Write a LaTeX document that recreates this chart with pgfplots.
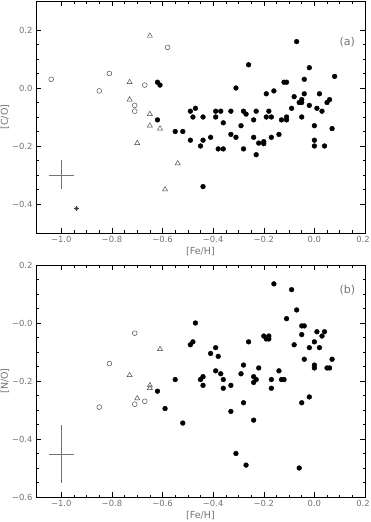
\documentclass[border=0pt]{standalone}
\usepackage{fontspec}
\setmainfont{DejaVu Sans}
\usepackage{pgfplots}
\pgfplotsset{compat=1.18}
\definecolor{txtgray}{gray}{0.45}
\definecolor{symgray}{gray}{0.25}

\pgfplotsset{
  feh/.style={
    scale only axis, width=329pt, height=232pt,
    xmin=-1.1, xmax=0.2,
    xtick={-1.0,-0.8,-0.6,-0.4,-0.2,0.0,0.2},
    xticklabels={−1.0,−0.8,−0.6,−0.4,−0.2,0.0,\hspace*{-4pt}0.2},
    minor x tick num=3, minor y tick num=3,
    tick align=inside,
    major tick length=5pt, minor tick length=2.5pt,
    every tick/.style={black, line width=0.5pt},
    axis line style={line width=0.6pt},
    ticklabel style={font=\fontsize{8.4}{10}\selectfont, text=txtgray},
    label style={font=\fontsize{9.5}{11}\selectfont, text=txtgray},
    xlabel={[Fe/H]},
    xlabel style={yshift=2pt},
    ylabel shift=-4pt,
    clip=false,
  },
  dots/.style={only marks, mark=*, mark size=2.4pt, black},
  opens/.style={only marks, mark=o, mark size=2.4pt, symgray, mark options={line width=0.45pt}},
  tris/.style={only marks, mark=triangle, mark size=2.9pt, symgray, mark options={line width=0.45pt}},
  errcross/.style={draw=none, no marks, txtgray,
    error bars/.cd, x dir=both, x explicit, y dir=both, y explicit,
    error mark=none, error bar style={txtgray, line width=0.5pt}},
}

\begin{document}
\begin{tikzpicture}[x=1pt,y=1pt]
\useasboundingbox (0,0) rectangle (370,-522);

% panel (a)
\begin{axis}[feh, at={(36pt,-1pt)}, anchor=north west,
    ymin=-0.5, ymax=0.3,
    ytick={-0.4,-0.2,0.0,0.2},
    yticklabels={−0.4,−0.2,0.0,0.2},
    ylabel={[C/O]}]
\addplot[dots] coordinates {
 (-0.07,0.16) (-0.26,0.08) (-0.02,0.07) (0.08,0.04) (-0.04,0.03)
 (-0.12,0.02) (-0.11,0.02) (-0.62,0.02) (-0.61,0.01) (-0.31,0.00)
 (-0.16,-0.01) (-0.19,-0.02) (-0.08,-0.03) (-0.04,-0.02) (0.02,-0.02)
 (-0.05,-0.04) (-0.06,-0.05) (-0.05,-0.05) (0.06,-0.04) (0.05,-0.05)
 (-0.09,-0.07) (-0.02,-0.06) (0.01,-0.07) (0.03,-0.08) (-0.18,-0.08)
 (-0.23,-0.08) (-0.19,-0.10) (-0.17,-0.10) (-0.11,-0.10) (-0.11,-0.11)
 (-0.13,-0.11) (-0.05,-0.10) (0.00,-0.13) (0.07,-0.14) (-0.14,-0.16)
 (-0.17,-0.17) (-0.22,-0.19) (-0.20,-0.185) (-0.20,-0.192) (0.00,-0.18)
 (0.00,-0.20) (0.04,-0.20) (-0.23,-0.23) (-0.24,-0.17) (-0.24,-0.11)
 (-0.49,-0.08) (-0.47,-0.07) (-0.48,-0.10) (-0.44,-0.10)
 (-0.39,-0.08) (-0.37,-0.08) (-0.39,-0.10)
 (-0.33,-0.08) (-0.28,-0.08) (-0.27,-0.09)
 (-0.36,-0.12) (-0.29,-0.13) (-0.62,-0.11)
 (-0.55,-0.15) (-0.52,-0.15)
 (-0.41,-0.17) (-0.44,-0.18) (-0.49,-0.18) (-0.45,-0.20)
 (-0.33,-0.16) (-0.31,-0.17)
 (-0.38,-0.21) (-0.36,-0.21) (-0.28,-0.21)
 (-0.44,-0.34)
};
\addplot[opens] coordinates {
 (-1.04,0.03) (-0.85,-0.01) (-0.81,0.05) (-0.67,0.01) (-0.58,0.14)
 (-0.71,-0.06) (-0.71,-0.08)
};
\addplot[tris] coordinates {
 (-0.65,0.18) (-0.73,0.02) (-0.73,-0.04) (-0.65,-0.09) (-0.65,-0.13)
 (-0.61,-0.14) (-0.70,-0.19) (-0.54,-0.26) (-0.59,-0.35)
};
\addplot[only marks, mark=x, mark size=2.4pt, symgray] coordinates {(-0.94,-0.415)};
\addplot[only marks, mark=+, mark size=2.4pt, symgray] coordinates {(-0.94,-0.415)};
\addplot[errcross] coordinates {(-1.0,-0.30) +- (0.05,0.05)};
\node[text=txtgray, font=\fontsize{11}{13}\selectfont] at (axis cs:0.13,0.16) {(a)};
\end{axis}

% panel (b)
\begin{axis}[feh, at={(36pt,-265pt)}, anchor=north west,
    ymin=-0.6, ymax=0.2,
    ytick={-0.6,-0.4,-0.2,0.0,0.2},
    yticklabels={−0.6,−0.4,−0.2,−0.0,0.2},
    ylabel={[N/O]}]
\addplot[dots] coordinates {
 (-0.47,0.00) (-0.48,-0.065) (-0.49,-0.075) (-0.26,-0.065) (-0.39,-0.085)
 (-0.41,-0.105) (-0.38,-0.115) (-0.28,-0.145) (-0.39,-0.165) (-0.37,-0.175)
 (-0.29,-0.175) (-0.55,-0.195) (-0.44,-0.185) (-0.45,-0.195) (-0.36,-0.195)
 (-0.24,-0.185) (-0.24,-0.205) (-0.23,-0.195) (-0.44,-0.215) (-0.33,-0.215)
 (-0.36,-0.225) (-0.62,-0.235) (-0.28,-0.275) (-0.59,-0.295) (-0.33,-0.305)
 (-0.24,-0.335) (-0.52,-0.345) (-0.31,-0.45) (-0.27,-0.49)
 (-0.16,0.135) (-0.09,0.115) (-0.07,0.045) (-0.11,0.015)
 (-0.05,-0.01) (-0.04,-0.01) (-0.05,-0.04) (0.01,-0.03) (0.04,-0.03)
 (0.03,-0.045) (0.00,-0.065) (-0.08,-0.075) (-0.02,-0.085) (0.02,-0.085)
 (-0.20,-0.045) (-0.18,-0.045) (-0.19,-0.055) (-0.18,-0.055)
 (-0.04,-0.125) (0.07,-0.125) (0.00,-0.145) (0.00,-0.155)
 (0.05,-0.155) (0.06,-0.155) (-0.22,-0.155) (-0.14,-0.165)
 (-0.17,-0.195) (-0.13,-0.195) (-0.12,-0.195) (-0.17,-0.225)
 (-0.02,-0.255) (-0.05,-0.275) (-0.06,-0.50)
};
\addplot[opens] coordinates {
 (-0.71,-0.035) (-0.81,-0.14) (-0.85,-0.29) (-0.71,-0.28) (-0.67,-0.27)
};
\addplot[tris] coordinates {
 (-0.61,-0.09) (-0.73,-0.18) (-0.65,-0.215) (-0.65,-0.225) (-0.70,-0.26)
};
\addplot[errcross] coordinates {(-1.0,-0.453) +- (0.05,0.10)};
\node[text=txtgray, font=\fontsize{11}{13}\selectfont] at (axis cs:0.13,0.113) {(b)};
\end{axis}
\end{tikzpicture}
\end{document}
